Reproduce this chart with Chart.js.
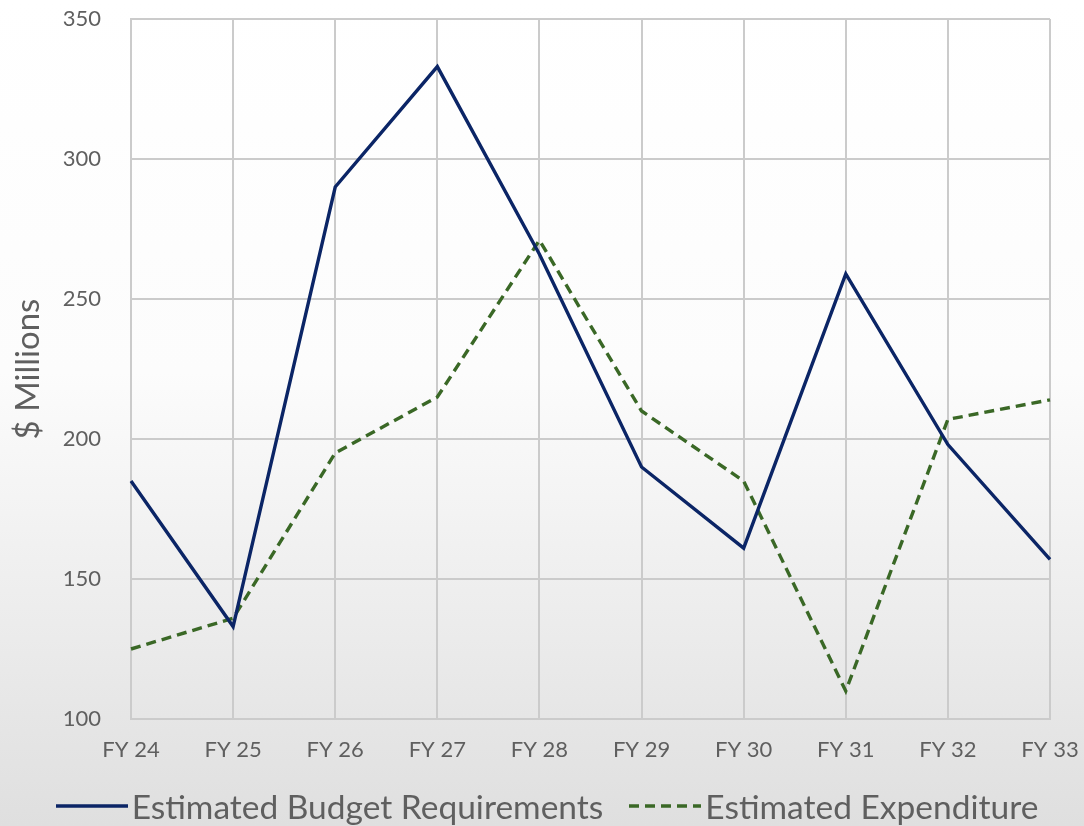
<!DOCTYPE html>
<html>
<head>
<meta charset="utf-8">
<script src="https://cdn.jsdelivr.net/npm/chart.js@4/dist/chart.umd.min.js"></script>
<style>
  html, body { margin: 0; padding: 0; }
  body { width: 1084px; height: 826px; overflow: hidden;
         background: linear-gradient(to bottom, #ffffff 0%, #fcfcfc 45%, #dfdfdf 100%); }
  #wrap { width: 1084px; height: 826px; position: relative; }
  #legend { position: absolute; left: 0; top: 785px; width: 1084px; height: 42px; box-sizing: border-box; padding-left: 10px;
            display: flex; justify-content: center; align-items: center;
            font-family: Lato, sans-serif; font-size: 33.5px; color: #5f5f5f; white-space: nowrap; }
  #legend .item { display: flex; align-items: center; }
  #legend svg { margin-right: 4px; }
  #legend .gap { width: 26px; }
</style>
</head>
<body>
<div id="wrap"><canvas id="c"></canvas>
  <div id="legend"></div>
</div>
<script>
const categories = ["FY 24","FY 25","FY 26","FY 27","FY 28","FY 29","FY 30","FY 31","FY 32","FY 33"];
const budgetRequirements = [185, 133, 290, 333, 266, 190, 161, 259, 198, 157];
const estimatedExpenditure = [125, 136, 195, 215, 271, 210, 185, 110, 207, 214];
const seriesNames = ["Estimated Budget Requirements", "Estimated Expenditure"];
const yAxisTitle = "$ Millions";

const gridColor = "#cbcbcb";
const textColor = "#5f5f5f";
const seriesColors = ["#0b2566", "#3a6826"];
const seriesDash = [[], [10, 6]];

const chart = new Chart(document.getElementById("c"), {
  type: "line",
  data: {
    labels: categories,
    datasets: [
      { label: seriesNames[0], data: budgetRequirements, borderColor: seriesColors[0], backgroundColor: seriesColors[0],
        borderWidth: 3.4, borderDash: seriesDash[0], pointRadius: 0, tension: 0, fill: false },
      { label: seriesNames[1], data: estimatedExpenditure, borderColor: seriesColors[1], backgroundColor: seriesColors[1],
        borderWidth: 3.4, borderDash: seriesDash[1], pointRadius: 0, tension: 0, fill: false }
    ]
  },
  options: {
    responsive: true,
    maintainAspectRatio: false,
    animation: false,
    layout: { padding: { left: 9, right: 0, top: 0, bottom: 44.6 } },
    scales: {
      x: {
        offset: false,
        grid: { color: gridColor, lineWidth: 2, drawTicks: false },
        border: { color: gridColor, width: 2 },
        ticks: { color: textColor, font: { family: "Lato", size: 22 }, padding: 18, maxRotation: 0, autoSkip: false },
        afterFit: (scale) => { scale.paddingRight = 34; scale.paddingLeft = 0; }
      },
      y: {
        min: 100, max: 350,
        grid: { color: gridColor, lineWidth: 2, drawTicks: false },
        border: { color: gridColor, width: 2 },
        ticks: { stepSize: 50, color: textColor, font: { family: "Lato", size: 22 }, padding: 30 },
        title: { display: true, text: yAxisTitle, color: textColor, font: { family: "Lato", size: 33 }, padding: 0 },
        afterFit: (scale) => { scale.width = 122; scale.paddingTop = 19; scale.paddingBottom = 0; }
      }
    },
    plugins: {
      legend: { display: false },
      tooltip: { enabled: false }
    }
  }
});

// HTML legend
const legendEl = document.getElementById("legend");
seriesNames.forEach((name, i) => {
  if (i > 0) { const g = document.createElement("span"); g.className = "gap"; legendEl.appendChild(g); }
  const item = document.createElement("span"); item.className = "item";
  const dash = seriesDash[i].length ? `stroke-dasharray="${seriesDash[i].join(' ')}"` : "";
  item.innerHTML = `<svg width="72" height="10"><line x1="0" y1="5" x2="72" y2="5" stroke="${seriesColors[i]}" stroke-width="3.4" ${dash}/></svg><span>${name}</span>`;
  legendEl.appendChild(item);
});
</script>
</body>
</html>
